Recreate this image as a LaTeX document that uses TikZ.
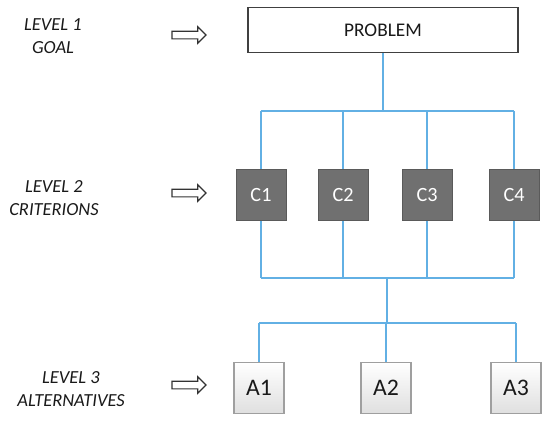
\documentclass[tikz,border=0pt]{standalone}
\usepackage{fontspec}
\setmainfont{Carlito}
\usetikzlibrary{shapes.arrows}
\definecolor{linkblue}{RGB}{98,176,228}
\definecolor{critgray}{RGB}{112,112,112}
\tikzset{
  lvl/.style={align=center, font=\fontsize{10.5}{13.5}\selectfont\itshape, text=black!90},
  hollowarrow/.style={single arrow, draw=black!80, fill=white, line width=0.7pt,
    minimum height=0.68cm, inner xsep=0pt, inner ysep=0.065cm, text width=0pt,
    single arrow head extend=0.085cm},
  probbox/.style={draw=black!75, fill=white, line width=0.8pt, minimum width=5.4cm, minimum height=0.9cm,
    font=\fontsize{11}{13}\selectfont, text=black!90},
  critbox/.style={fill=critgray, draw=critgray!80!black, line width=0.4pt, minimum width=1cm, minimum height=1.02cm,
    font=\fontsize{11.5}{13}\selectfont, text=white},
  altbox/.style={draw=gray!75, line width=1.1pt, top color=white, bottom color=gray!25,
    minimum width=1.0cm, minimum height=1.02cm, font=\fontsize{13.5}{15}\selectfont, text=black!90},
  link/.style={draw=linkblue, line width=0.9pt}
}
\begin{document}
\begin{tikzpicture}[x=0.02cm, y=-0.02cm]
\useasboundingbox (0,0) rectangle (550,420);
% level labels
\node[lvl] (l1) at (53,36) {LEVEL 1\\GOAL};
\node[lvl] (l2) at (54,198) {LEVEL 2\\CRITERIONS};
\node[lvl] (l3) at (71,389) {LEVEL 3\\ALTERNATIVES};
\node[hollowarrow] (ar1) at (187,35) {};
\node[hollowarrow] (ar2) at (187,193) {};
\node[hollowarrow] (ar3) at (187,385) {};
% nodes
\node[probbox] (p) at (383,30) {PROBLEM};
\node[critbox] (c1) at (261,195) {C1};
\node[critbox] (c2) at (343,195) {C2};
\node[critbox] (c3) at (427,195) {C3};
\node[critbox] (c4) at (514,195) {C4};
\node[altbox] (a1) at (259,388) {A1};
\node[altbox] (a2) at (386,388) {A2};
\node[altbox] (a3) at (516,388) {A3};
% bus coordinates
\coordinate (b1) at (383,111);
\coordinate (b2) at (387,278);
\coordinate (b3) at (387,323);
% connectors
\draw[link] (p.south) -- (p.south |- b1);
\draw[link] (c1.north |- b1) -- (c4.north |- b1);
\foreach \c in {c1,c2,c3,c4}{
  \draw[link] (\c.north |- b1) -- (\c.north);
  \draw[link] (\c.south) -- (\c.south |- b2);
}
\draw[link] (c1.south |- b2) -- (c4.south |- b2);
\draw[link] (b2) -- (b3);
\draw[link] (a1.north |- b3) -- (a3.north |- b3);
\foreach \a in {a1,a2,a3}{
  \draw[link] (\a.north |- b3) -- (\a.north);
}
\end{tikzpicture}
\end{document}
